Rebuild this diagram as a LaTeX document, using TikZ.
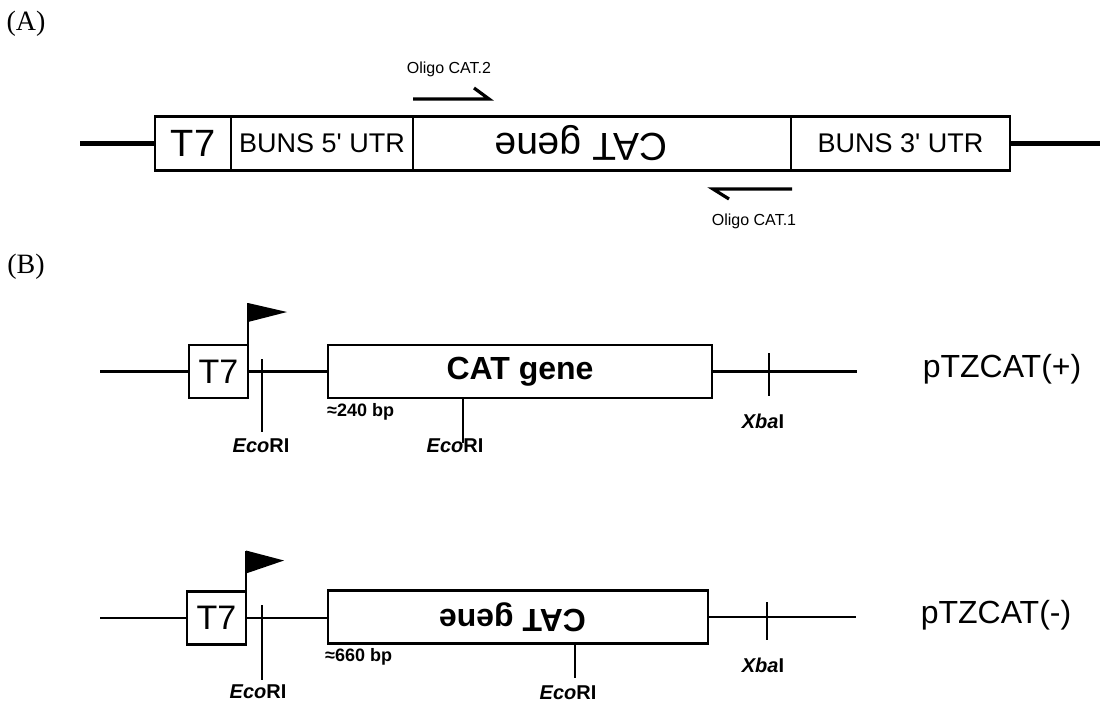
\documentclass[tikz,border=0pt]{standalone}
\usepackage{fontspec}
\setmainfont{Liberation Serif}
\setsansfont{Liberation Sans}
\usepackage{tikz}
\usetikzlibrary{positioning}
\newcommand{\enz}[2]{\textbf{\textit{#1}#2}}
\newcommand{\flipped}[2]{\rotatebox[origin=c]{180}{#1}\kern#2}

\begin{document}
\begin{tikzpicture}[
  x=1pt,
  y=-1pt,
  font=\sffamily,
  box/.style={
    draw,
    inner sep=0pt,
    outer sep=0pt,
    anchor=west
  },
  boxA/.style={box, line width=2.6pt, minimum height=54pt},
  boxB/.style={box, line width=2.4pt, minimum height=53pt},
  strandA/.style={line width=4.5pt},
  strandB/.style={line width=2.4pt},
  tick/.style={line width=2.4pt},
  primer/.style={line width=3.2pt, line join=miter},
  panel/.style={font=\rmfamily\fontsize{28}{32}\selectfont, inner sep=0pt},
  oligo/.style={font=\sffamily\fontsize{16}{19}\selectfont, inner sep=0pt},
  site/.style={font=\sffamily\fontsize{20}{24}\selectfont, inner sep=0pt},
  size/.style={font=\sffamily\bfseries\fontsize{18}{21}\selectfont, inner sep=0pt, anchor=west},
  plasmid/.style={font=\sffamily\fontsize{32}{38}\selectfont, inner sep=0pt},
  utr/.style={font=\sffamily\fontsize{27}{32}\selectfont},
  geneB/.style={font=\sffamily\bfseries\fontsize{32}{38}\selectfont}
]
\useasboundingbox (0,0) rectangle (1103,702);

% panel A
\node[panel] (labA) at (26,24) {(A)};
\node[panel] (labB) at (26,267) {(B)};

\node[boxA, minimum width=76pt, font=\sffamily\fontsize{38}{44}\selectfont] (t7A) at (155,143.5) {T7};
\node[boxA, minimum width=182pt, utr] (utr5) at (231,143.5) {BUNS 5\textquotesingle\ UTR};
\node[boxA, minimum width=378pt, font=\sffamily\fontsize{39}{46}\selectfont] (catA) at (413,143.5) {\flipped{CAT gene}{42pt}};
\node[boxA, minimum width=219pt, utr] (utr3) at (791,143.5) {BUNS 3\textquotesingle\ UTR};

\coordinate (a0) at (80,143.5);
\coordinate (a1) at (1100,143.5);
\draw[strandA] (a0) -- (t7A.west);
\draw[strandA] (utr3.east) -- (a1);

\node[oligo] (ol2) at (449,69) {Oligo CAT.2};
\coordinate (o2a) at (413,99);
\coordinate (o2b) at (489,99);
\draw[primer] (o2a) -- (o2b) -- ++(-15,-11);

\node[oligo] (ol1) at (754,221) {Oligo CAT.1};
\coordinate (o1a) at (792,189);
\coordinate (o1b) at (713,189);
\draw[primer] (o1a) -- (o1b) -- ++(16,10);

% panel B, pTZCAT(+)
\node[boxB, minimum width=59pt, font=\sffamily\fontsize{34}{40}\selectfont] (t7B1) at (189,371.5) {T7};
\node[boxB, minimum width=384pt, geneB] (catB1) at (328,371.5) {CAT gene};
\coordinate (b1l) at (100,371.5);
\coordinate (b1r) at (857,371.5);
\draw[strandB] (b1l) -- (t7B1.west);
\draw[strandB] (t7B1.east) -- (catB1.west);
\draw[strandB] (catB1.east) -- (b1r);

\draw[strandB] (t7B1.north east) -- ++(0,-42) coordinate (flag1);
\fill (flag1) -- ++(39,9) -- ++(-39,10) -- cycle;

\node[site] (eco11) at (261,446) {\enz{Eco}{RI}};
\coordinate (e11a) at (262,359);
\coordinate (e11b) at (262,432);
\draw[tick] (e11a) -- (e11b);

\node[site] (eco12) at (455,446) {\enz{Eco}{RI}};
\coordinate (e12) at (463,443);
\draw[tick] (catB1.south -| e12) -- (e12);

\node[site] (xba1) at (763,421) {\enz{Xba}{I}};
\coordinate (x1a) at (769,353);
\coordinate (x1b) at (769,396);
\draw[tick] (x1a) -- (x1b);

\node[size] (bp1) at (327,412) {≈240 bp};
\node[plasmid] (pl1) at (1002,369) {pTZCAT(+)};

% panel B, pTZCAT(-)
\node[boxB, minimum width=59pt, font=\sffamily\fontsize{34}{40}\selectfont] (t7B2) at (187,618) {T7};
\node[boxB, minimum width=380pt, geneB] (catB2) at (328,617) {\flipped{CAT gene}{11pt}};
\coordinate (b2l) at (100,618);
\coordinate (b2r) at (856,617);
\draw[strandB] (b2l) -- (t7B2.west);
\draw[strandB] (t7B2.east) -- (t7B2.east -| catB2.west);
\draw[strandB] (catB2.east) -- (b2r);

\draw[strandB] (t7B2.north east) -- ++(0,-41) coordinate (flag2);
\fill (flag2) -- ++(38,10) -- ++(-38,13) -- cycle;

\node[site] (eco21) at (258,692) {\enz{Eco}{RI}};
\coordinate (e21a) at (262,605);
\coordinate (e21b) at (262,680);
\draw[tick] (e21a) -- (e21b);

\node[site] (eco22) at (568,693) {\enz{Eco}{RI}};
\coordinate (e22) at (575,678);
\draw[tick] (catB2.south -| e22) -- (e22);

\node[site] (xba2) at (763,665) {\enz{Xba}{I}};
\coordinate (x2a) at (767,602);
\coordinate (x2b) at (767,640);
\draw[tick] (x2a) -- (x2b);

\node[size] (bp2) at (325,657) {≈660 bp};
\node[plasmid] (pl2) at (996,615) {pTZCAT(-)};
\end{tikzpicture}
\end{document}
